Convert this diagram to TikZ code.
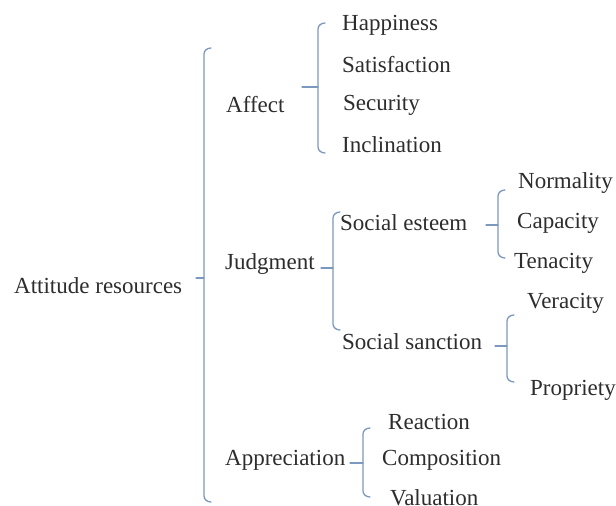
\documentclass[tikz,border=0pt]{standalone}
\usepackage{fontspec}
\setmainfont{Liberation Serif}
\definecolor{brcol}{RGB}{125,152,190}
\definecolor{txtcol}{RGB}{45,45,45}
\begin{document}
\begin{tikzpicture}[x=1pt,y=-1pt,
  lbl/.style={anchor=west,inner sep=0pt,text=txtcol,font=\fontsize{23}{26}\selectfont},
  br/.style={draw=brcol,line width=1.3pt,line cap=round}]
\useasboundingbox[fill=white] (0,0) rectangle (616,506);
% texts
\node[lbl] (att) at (14,286) {Attitude resources};
\node[lbl] (aff) at (226,105) {Affect};
\node[lbl] (hap) at (342,25) {Happiness};
\node[lbl] (sat) at (342,65) {Satisfaction};
\node[lbl] (sec) at (343,105) {Security};
\node[lbl] (inc) at (342,145) {Inclination};
\node[lbl] (jud) at (225,264) {Judgment};
\node[lbl] (ses) at (340,223) {Social esteem};
\node[lbl] (nor) at (518,183) {Normality};
\node[lbl] (cap) at (517,223) {Capacity};
\node[lbl] (ten) at (514,263) {Tenacity};
\node[lbl] (ver) at (527,303) {Veracity};
\node[lbl] (ssa) at (342,342) {Social sanction};
\node[lbl] (pro) at (530,390) {Propriety};
\node[lbl] (app) at (225,460) {Appreciation};
\node[lbl] (rea) at (388,422) {Reaction};
\node[lbl] (com) at (382,460) {Composition};
\node[lbl] (val) at (390,498) {Valuation};
% brackets: x, top, bottom, tick y, tick start
\newcommand\mybrk[5]{%
  \draw[br] (#1+7,#2) to[out=180,in=90] (#1,#2+6) -- (#1,#3-6) to[out=-90,in=180] (#1+7,#3);
  \draw[br] (#1,#4) -- (#5,#4);}
\mybrk{204}{48}{502}{278}{196}
\mybrk{318}{23}{153}{87}{302}
\mybrk{333}{212}{330}{268}{321}
\mybrk{498}{190}{258}{225}{486}
\mybrk{507}{315}{382}{346}{495}
\mybrk{363}{428}{497}{463}{350}
\end{tikzpicture}
\end{document}
